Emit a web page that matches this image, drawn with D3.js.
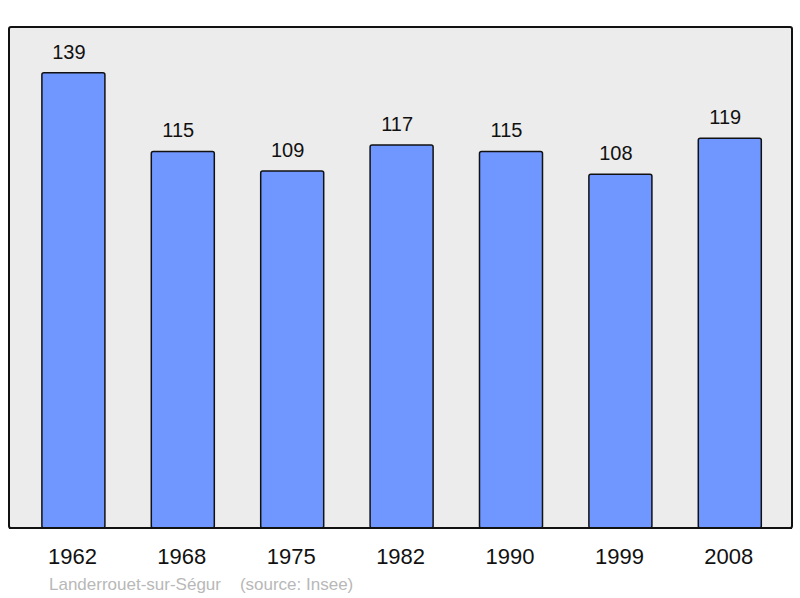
<!DOCTYPE html>
<html>
<head>
    <meta charset="utf-8">
    <script src="https://d3js.org/d3.v7.min.js"></script>
    <style>
        body { margin: 0; background: #fff; font-family: "Liberation Sans", Arial, sans-serif; }
    </style>
</head>
<body>
    <script>
        const years = ["1962", "1968", "1975", "1982", "1990", "1999", "2008"];
        const population = [139, 115, 109, 117, 115, 108, 119];
        const footer = "Landerrouet-sur-Ségur    (source: Insee)";

        const width = 800;
        const height = 598;
        const panel = { left: 9, top: 27, right: 792, bottom: 528 };

        const svg = d3.select('body')
            .append('svg')
            .attr('width', width)
            .attr('height', height)

        const x = d3.scaleBand()
            .domain(years)
            .range([18.7, 784.5])
            .paddingInner(0.424)
            .paddingOuter(0.212)

        const y = d3.scaleLinear()
            .domain([0, 153])
            .range([panel.bottom, panel.top])

        svg.append('rect')
            .attr('x', panel.left)
            .attr('y', panel.top)
            .attr('width', panel.right - panel.left)
            .attr('height', panel.bottom - panel.top)
            .attr('rx', 2)
            .attr('fill', '#ececec')
            .attr('stroke', '#111')
            .attr('stroke-width', 2)

        svg.selectAll('rect.bar')
            .data(population)
            .enter()
            .append('rect')
            .attr('class', 'bar')
            .attr('x', (d, i) => x(years[i]))
            .attr('y', d => y(d))
            .attr('width', x.bandwidth())
            .attr('height', d => y(0) - y(d))
            .attr('rx', 2)
            .attr('fill', '#7096ff')
            .attr('stroke', '#111')
            .attr('stroke-width', 1.5)

        // labels sit a little left of the bar centre, as in the original
        svg.selectAll('text.value')
            .data(population)
            .enter()
            .append('text')
            .attr('class', 'value')
            .attr('x', (d, i) => x(years[i]) + x.bandwidth() / 2 - 4.5)
            .attr('y', d => y(d) - 14)
            .attr('text-anchor', 'middle')
            .attr('font-size', 20)
            .attr('fill', '#111')
            .text(d => d)

        // redraw the bottom edge over the bars
        svg.append('line')
            .attr('x1', panel.left)
            .attr('x2', panel.right)
            .attr('y1', panel.bottom)
            .attr('y2', panel.bottom)
            .attr('stroke', '#111')
            .attr('stroke-width', 2)

        const xAxis = d3.axisBottom(x).tickSize(0).tickPadding(0)
        const axisG = svg.append('g')
            .attr('transform', `translate(0, ${panel.bottom})`)
            .call(xAxis)
        axisG.select('.domain').remove()
        axisG.selectAll('text')
            .attr('dy', null)
            .attr('dx', -1)
            .attr('y', 36)
            .attr('font-size', 22)
            .attr('font-family', '"Liberation Sans", Arial, sans-serif')
            .attr('fill', '#111')

        svg.append('text')
            .attr('x', 49)
            .attr('y', 590)
            .attr('font-size', 17)
            .attr('fill', '#b8b8b8')
            .attr('xml:space', 'preserve')
            .style('white-space', 'pre')
            .text(footer)
    </script>
</body>
</html>
